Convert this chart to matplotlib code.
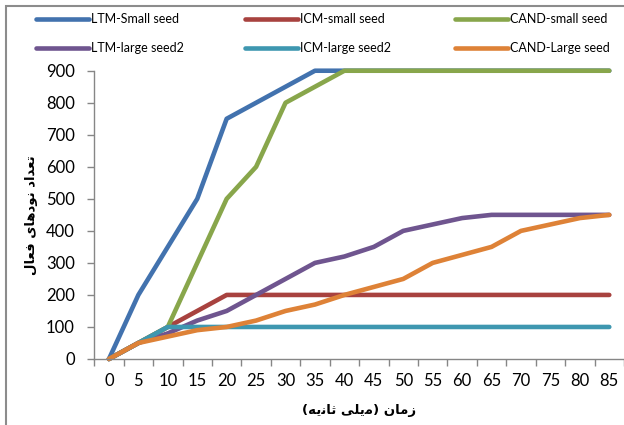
import matplotlib
matplotlib.use("Agg")
import matplotlib.pyplot as plt
from matplotlib.patches import Rectangle

# Time axis (milliseconds) and active-node counts per series
times = [0, 5, 10, 15, 20, 25, 30, 35, 40, 45, 50, 55, 60, 65, 70, 75, 80, 85]

ltm_small = [0, 200, 350, 500, 750, 800, 850, 900, 900, 900, 900, 900, 900, 900, 900, 900, 900, 900]
icm_small = [0, 50, 100, 150, 200, 200, 200, 200, 200, 200, 200, 200, 200, 200, 200, 200, 200, 200]
cand_small = [0, 50, 100, 300, 500, 600, 800, 850, 900, 900, 900, 900, 900, 900, 900, 900, 900, 900]
ltm_large = [0, 50, 80, 120, 150, 200, 250, 300, 320, 350, 400, 420, 440, 450, 450, 450, 450, 450]
icm_large = [0, 50, 100, 100, 100, 100, 100, 100, 100, 100, 100, 100, 100, 100, 100, 100, 100, 100]
cand_large = [0, 50, 70, 90, 100, 120, 150, 170, 200, 225, 250, 300, 325, 350, 400, 420, 440, 450]

series_names = ["LTM-Small seed", "ICM-small seed", "CAND-small seed",
                "LTM-large seed2", "ICM-large seed2", "CAND-Large seed"]
series_values = [ltm_small, icm_small, cand_small, ltm_large, icm_large, cand_large]
series_colors = ["#4272AE", "#A8423F", "#88A64B", "#6F558F", "#3E97B0", "#DE8237"]

y_ticks = [0, 100, 200, 300, 400, 500, 600, 700, 800, 900]


def shape_rtl(text):
    # Persian text written with presentation forms, reversed for left-to-right drawing
    out = text[::-1]
    swap = {"(": ")", ")": "("}
    return "".join(swap.get(c, c) for c in out)


# تعداد نودهای فعال
y_label = shape_rtl("\uFE97\uFECC\uFEAA\uFE8D\uFEA9 "
                    "\uFEE7\uFEEE\uFEA9\uFEEB\uFE8E\uFBFC "
                    "\uFED3\uFECC\uFE8E\uFEDD")
# زمان (میلی ثانیه)
x_label = shape_rtl("\uFEAF\uFEE3\uFE8E\uFEE5 "
                    "(\uFEE3\uFBFE\uFEE0\uFBFD "
                    "\uFE9B\uFE8E\uFEE7\uFBFE\uFEEA)")

plt.rcParams["font.family"] = ["Lato", "DejaVu Sans"]

W, H = 624, 425
fig = plt.figure(figsize=(W / 100, H / 100), dpi=100)
ax = fig.add_axes([0.151, 0.1553, 0.849, 0.6783])

positions = list(range(len(times)))
handles = []
for name, vals, col in zip(series_names, series_values, series_colors):
    h, = ax.plot(positions, vals, color=col, lw=3.3, label=name,
                 solid_capstyle="round", solid_joinstyle="round", clip_on=False)
    handles.append(h)

ax.set_xlim(-0.5, len(times) - 0.5)
ax.set_ylim(0, 900)
ax.set_yticks(y_ticks)
ax.set_yticklabels([str(v) for v in y_ticks])
ax.set_xticks(positions)
ax.set_xticklabels([str(t) for t in times])
ax.tick_params(axis="both", which="major", length=0, labelsize=12,
               colors="#000000", pad=10)
ax.tick_params(axis="y", length=5, color="#868686", width=1, pad=9)
# tick marks between categories
ax.set_xticks([p - 0.5 for p in positions] + [len(times) - 0.5], minor=True)
ax.tick_params(axis="x", which="minor", length=5, color="#868686", width=1)

for s in ["top", "right"]:
    ax.spines[s].set_visible(False)
for s in ["left", "bottom"]:
    ax.spines[s].set_color("#868686")
    ax.spines[s].set_linewidth(1.0)

ax.set_xlabel(x_label, family=["DejaVu Sans"], fontweight="bold", fontsize=9.5, labelpad=11)
ax.set_ylabel(y_label, family=["DejaVu Sans"], fontweight="bold", fontsize=9.5, labelpad=6)

# legend: three columns, each holding two series (rows read left to right)
col_x = [36, 245, 455]
for c in range(3):
    idx = [c, c + 3]
    leg = fig.legend([handles[i] for i in idx], [series_names[i] for i in idx],
                     loc="upper left", bbox_to_anchor=(col_x[c] / W, 1 - 13 / H),
                     frameon=False, fontsize=9, handlelength=4.2,
                     handletextpad=0.2, labelspacing=1.4,
                     borderpad=0, borderaxespad=0)
    for ln in leg.get_lines():
        ln.set_linewidth(3.3)
        ln.set_solid_capstyle("round")

# outer chart border
fig.patches.append(Rectangle((5.5 / W, -0.05), 1.2, 1 - 5.5 / H + 0.05,
                             transform=fig.transFigure, fill=False,
                             edgecolor="#8C8C8C", lw=1.5))

fig.savefig("out.png", dpi=100)
